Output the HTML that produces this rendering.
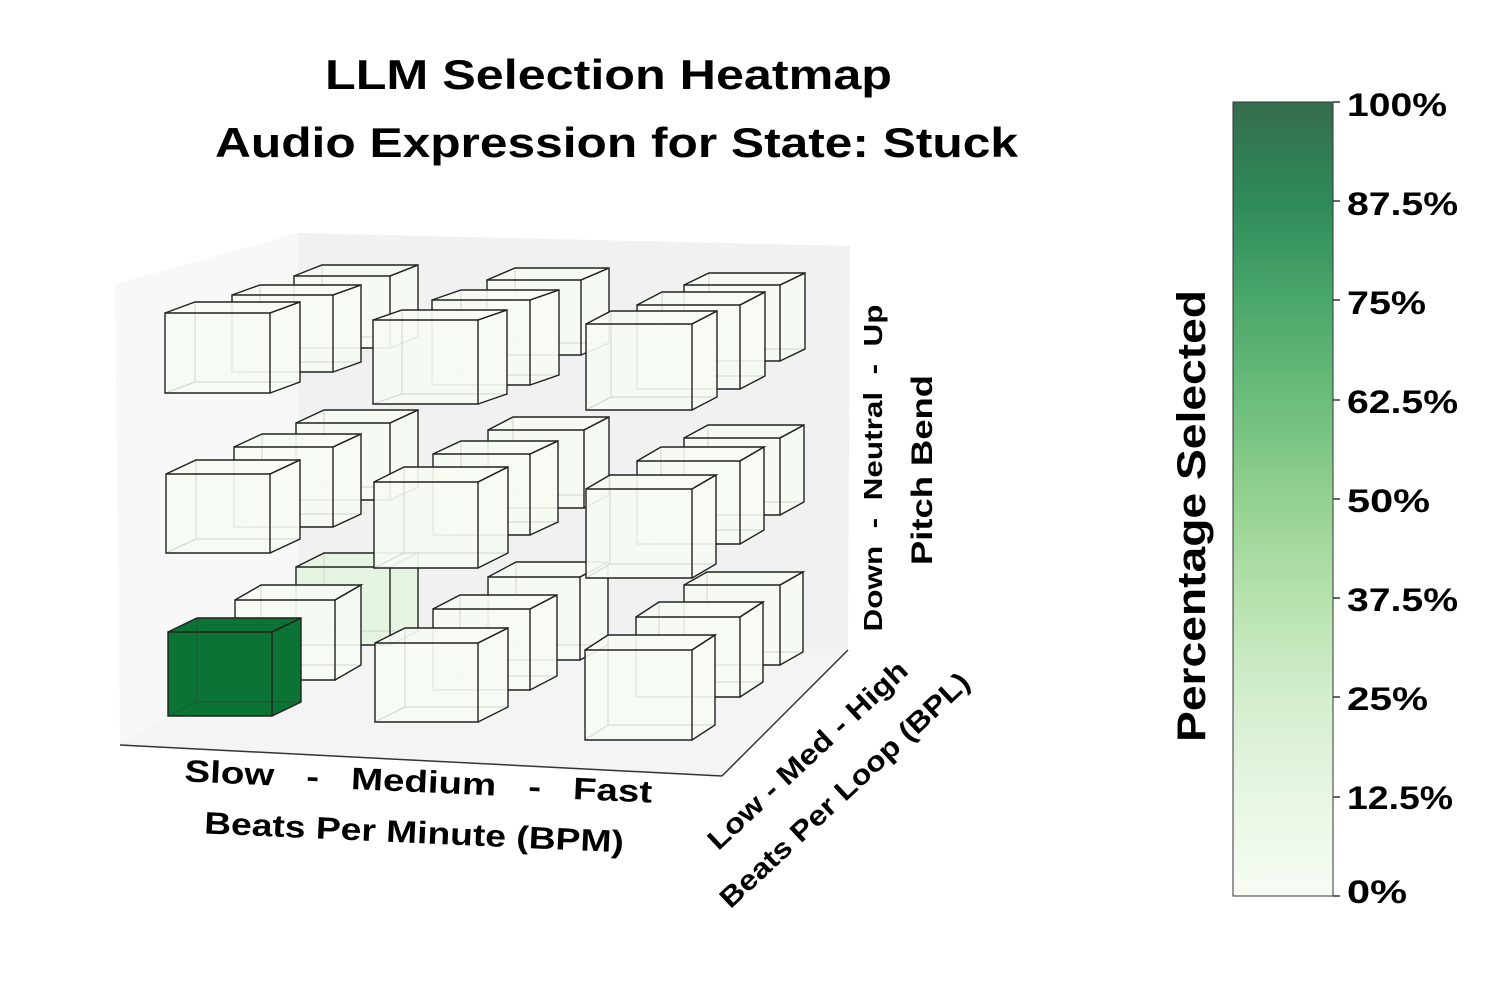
<!DOCTYPE html>
<html><head><meta charset="utf-8">
<style>
html,body{margin:0;padding:0;background:#fff;}
svg{display:block;font-family:"Liberation Sans",Arial,sans-serif;font-weight:bold;}
</style></head>
<body>
<svg id="s" width="1500" height="1000" viewBox="0 0 1500 1000" xmlns="http://www.w3.org/2000/svg">
<defs>
<linearGradient id="cb" x1="0" y1="1" x2="0" y2="0">
<stop offset="0" stop-color="#f7fcf5"/>
<stop offset="0.125" stop-color="#e8f6e3"/>
<stop offset="0.25" stop-color="#d3eecd"/>
<stop offset="0.375" stop-color="#b6e2ae"/>
<stop offset="0.5" stop-color="#93d18f"/>
<stop offset="0.625" stop-color="#6cbd7c"/>
<stop offset="0.75" stop-color="#4aa76a"/>
<stop offset="0.875" stop-color="#2f8a59"/>
<stop offset="1" stop-color="#356d4b"/>
</linearGradient>
</defs>
<polygon points="115,284 298,233 298,640 120,745" fill="#f8f8f8"/>
<polygon points="298,233 850,246 848,650 298,640" fill="#f1f1f1"/>
<polygon points="120,745 298,640 848,650 722,776" fill="#f4f4f4"/>
<line x1="120" y1="745" x2="722" y2="776" stroke="#333" stroke-width="1.5"/>
<line x1="722" y1="776" x2="848" y2="650" stroke="#333" stroke-width="1.5"/>
<g id="cubes"></g>
<text x="325" y="89" font-size="42" textLength="567" lengthAdjust="spacingAndGlyphs">LLM Selection Heatmap</text>
<text x="215" y="157" font-size="42" textLength="803" lengthAdjust="spacingAndGlyphs">Audio Expression for State: Stuck</text>
<g transform="rotate(2.6 418 790)">
<text x="184" y="792" font-size="31" textLength="468" lengthAdjust="spacingAndGlyphs" xml:space="preserve">Slow   -   Medium   -   Fast</text>
<text x="206" y="843" font-size="31" textLength="420" lengthAdjust="spacingAndGlyphs">Beats Per Minute (BPM)</text>
</g>
<text transform="translate(814,762) rotate(-43)" font-size="28" text-anchor="middle" textLength="262" lengthAdjust="spacingAndGlyphs">Low - Med - High</text>
<text transform="translate(851,797) rotate(-43)" font-size="28" text-anchor="middle" textLength="330" lengthAdjust="spacingAndGlyphs">Beats Per Loop (BPL)</text>
<text transform="translate(882,468) rotate(-90)" font-size="26" text-anchor="middle" textLength="327" lengthAdjust="spacingAndGlyphs" xml:space="preserve">Down  -  Neutral  -  Up</text>
<text transform="translate(932,470) rotate(-90)" font-size="30" text-anchor="middle" textLength="190" lengthAdjust="spacingAndGlyphs">Pitch Bend</text>
<rect x="1233" y="102" width="100" height="794" fill="url(#cb)" stroke="#333" stroke-width="1"/>
<g stroke="#333" stroke-width="1.5">
<line x1="1333" y1="102" x2="1340" y2="102"/><line x1="1333" y1="201" x2="1340" y2="201"/>
<line x1="1333" y1="300" x2="1340" y2="300"/><line x1="1333" y1="400" x2="1340" y2="400"/>
<line x1="1333" y1="499" x2="1340" y2="499"/><line x1="1333" y1="598" x2="1340" y2="598"/>
<line x1="1333" y1="697" x2="1340" y2="697"/><line x1="1333" y1="797" x2="1340" y2="797"/>
<line x1="1333" y1="896" x2="1340" y2="896"/>
</g>
<g font-size="32">
<text x="1347" y="116" textLength="100" lengthAdjust="spacingAndGlyphs">100%</text>
<text x="1347" y="215" textLength="111" lengthAdjust="spacingAndGlyphs">87.5%</text>
<text x="1347" y="314" textLength="79" lengthAdjust="spacingAndGlyphs">75%</text>
<text x="1347" y="413" textLength="111" lengthAdjust="spacingAndGlyphs">62.5%</text>
<text x="1347" y="512" textLength="83" lengthAdjust="spacingAndGlyphs">50%</text>
<text x="1347" y="611" textLength="111" lengthAdjust="spacingAndGlyphs">37.5%</text>
<text x="1347" y="710" textLength="81" lengthAdjust="spacingAndGlyphs">25%</text>
<text x="1347" y="809" textLength="106" lengthAdjust="spacingAndGlyphs">12.5%</text>
<text x="1347" y="903" textLength="60" lengthAdjust="spacingAndGlyphs">0%</text>
</g>
<text transform="translate(1205,516) rotate(-90)" font-size="40" text-anchor="middle" textLength="452" lengthAdjust="spacingAndGlyphs">Percentage Selected</text>
</svg>
<script>
var rows=[
[[296,567,94,78,418,553,"#e5f5e0"],[488,577,92,83,608,562],[684,585,96,80,803,572],
 [296,423,94,77,418,410],[488,430,96,78,609,417],[684,438,96,77,804,425],
 [294,276,96,72,418,265],[487,280,94,75,609,268],[684,285,96,76,805,273]],
[[235,600,100,80,361,585],[433,609,97,81,557,595],[636,617,104,80,763,602],
 [234,447,99,80,361,434],[433,454,97,81,558,441],[637,461,103,83,764,447],
 [232,295,101,77,361,285],[432,300,98,85,559,290],[637,305,103,84,765,292]],
[[168,632,104,84,301,618,"#0b7333"],[375,643,103,79,508,628],[585,650,107,90,715,635],
 [166,474,104,79,300,460],[374,482,104,86,508,467],[586,489,106,89,716,475],
 [165,313,105,80,300,302],[373,320,105,84,507,310],[586,324,106,86,717,311]]
];
var out="";
rows.forEach(function(r){r.forEach(function(c){
 var x=c[0],y=c[1],w=c[2],h=c[3],bx=c[4],by=c[5],f=c[6]||"#f5fbf3";
 var dx=bx-(x+w), dy=by-y;
 var X2=x+w,Y2=y+h;
 var p=function(a){return a.map(function(q){return q[0]+","+q[1]}).join(" ")};
 var fr=[[x,y],[X2,y],[X2,Y2],[x,Y2]];
 var top=[[x,y],[x+dx,y+dy],[X2+dx,y+dy],[X2,y]];
 var rt=[[X2,y],[X2+dx,y+dy],[X2+dx,Y2+dy],[X2,Y2]];
 var sil=[[x,y],[x+dx,y+dy],[X2+dx,y+dy],[X2+dx,Y2+dy],[X2,Y2],[x,Y2]];
 var op=(f=="#0b7333")?1:0.92;
 out+='<polygon points="'+p(sil)+'" fill="'+f+'" fill-opacity="'+op+'"/>';
 var hs=(f=="#0b7333")?"#1f5a33":"#d0d4d0";
 out+='<polyline points="'+p([[x+dx,y+dy],[x+dx,Y2+dy],[X2+dx,Y2+dy]])+'" fill="none" stroke="'+hs+'" stroke-width="1"/>';
 out+='<line x1="'+x+'" y1="'+Y2+'" x2="'+(x+dx)+'" y2="'+(Y2+dy)+'" stroke="'+hs+'" stroke-width="1"/>';
 out+='<polygon points="'+p(fr)+'" fill="none" stroke="#222" stroke-width="1.4"/>';
 out+='<polyline points="'+p(top)+'" fill="none" stroke="#222" stroke-width="1.4"/>';
 out+='<polyline points="'+p(rt)+'" fill="none" stroke="#222" stroke-width="1.4"/>';
});});
document.getElementById("cubes").innerHTML=out;
</script>
</body></html>
